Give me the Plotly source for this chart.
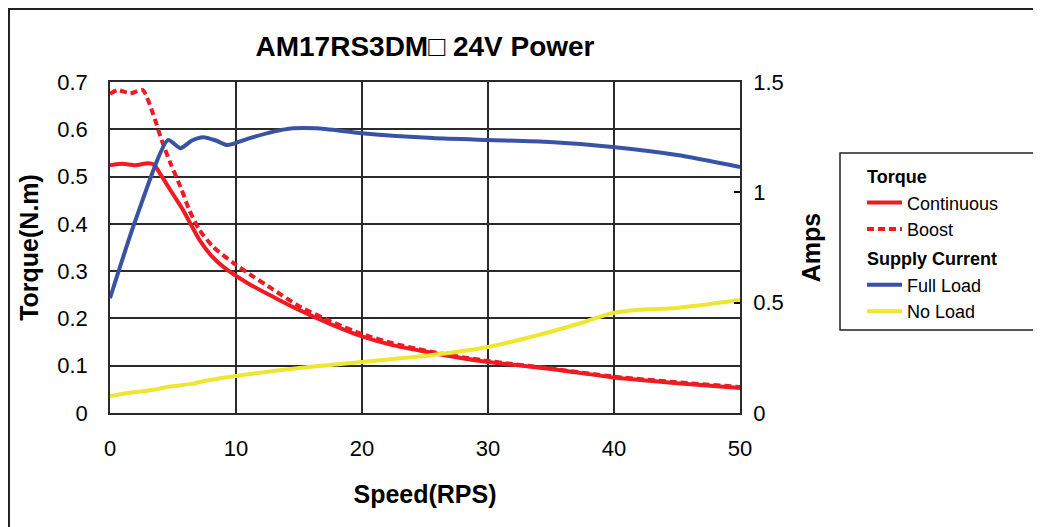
import plotly.graph_objects as go

# ---- data ----
cont_speed = [0, 1, 2, 3, 3.5, 4, 4.8, 5.8, 7.1, 8, 9, 10.9, 13, 15, 17.5, 20, 22.5, 25, 27.5, 30, 35, 40, 45, 50]
cont_torque = [0.524, 0.527, 0.524, 0.528, 0.525, 0.505, 0.471, 0.429, 0.366, 0.334, 0.309, 0.275, 0.245, 0.218, 0.188, 0.162, 0.143, 0.130, 0.118, 0.108, 0.093, 0.075, 0.063, 0.053]

boost_speed = [0, 0.6, 1.6, 2.6, 3.4, 4.1, 4.8, 5.6, 6.3, 7.1, 8.2, 9.8, 11.4, 12.9, 15, 17.5, 20, 22.5, 25, 27.5, 30, 35, 40, 45, 50]
boost_torque = [0.675, 0.683, 0.676, 0.683, 0.634, 0.577, 0.528, 0.478, 0.429, 0.387, 0.351, 0.317, 0.288, 0.262, 0.226, 0.194, 0.167, 0.147, 0.132, 0.12, 0.11, 0.094, 0.077, 0.065, 0.055]

full_speed = [0, 2, 4.6, 5.6, 6.5, 7.4, 8.4, 9.3, 11.1, 13, 14.5, 16.4, 20, 25.6, 30, 34.9, 39.9, 45, 50]
full_amps = [0.52, 0.87, 1.237, 1.20, 1.235, 1.25, 1.235, 1.214, 1.246, 1.275, 1.29, 1.29, 1.268, 1.246, 1.237, 1.228, 1.205, 1.169, 1.115]

noload_speed = [0, 2, 3.5, 4.5, 5.5, 6.5, 7.5, 8.5, 10, 15, 20, 25.6, 30, 34.9, 37.5, 39.9, 42, 45, 50]
noload_amps = [0.077, 0.095, 0.105, 0.118, 0.125, 0.132, 0.145, 0.155, 0.168, 0.204, 0.231, 0.263, 0.299, 0.367, 0.41, 0.453, 0.468, 0.476, 0.512]

title_text = "AM17RS3DM\u25a1 24V Power"

RED = "#ED1C24"
BLUE = "#3953A4"
YELLOW = "#EEE630"
FONT = "Liberation Sans, Arial, sans-serif"

W, H = 1041, 527
OFF = 8  # page body margin
L, R, T, B = 110 - OFF, 740 - OFF, 82 - OFF, 413 - OFF

def px(xs):
    return (xs - OFF - L) / (R - L)

def py(ys):
    return (B - (ys - OFF)) / (B - T)

fig = go.Figure()
fig.add_trace(go.Scatter(x=cont_speed, y=cont_torque, mode="lines", name="Continuous",
                         line=dict(color=RED, width=4, shape="spline", smoothing=0.6),
                         legendgroup="torque", legendgrouptitle_text="<b>Torque</b>"))
fig.add_trace(go.Scatter(x=boost_speed, y=boost_torque, mode="lines", name="Boost",
                         line=dict(color=RED, width=4, dash="7px,4px", shape="spline", smoothing=0.6),
                         legendgroup="torque"))
fig.add_trace(go.Scatter(x=full_speed, y=full_amps, mode="lines", name="Full Load", yaxis="y2",
                         line=dict(color=BLUE, width=4, shape="spline", smoothing=0.6),
                         legendgroup="supply", legendgrouptitle_text="<b>Supply Current</b>"))
fig.add_trace(go.Scatter(x=noload_speed, y=noload_amps, mode="lines", name="No Load", yaxis="y2",
                         line=dict(color=YELLOW, width=4, shape="spline", smoothing=0.6),
                         legendgroup="supply"))

grid = "#2a2a2a"
fig.update_layout(
    width=W, height=H,
    margin=dict(l=L, r=W - R, t=T, b=H - B, pad=0),
    paper_bgcolor="white", plot_bgcolor="white",
    font=dict(family=FONT, size=22, color="black"),
    title=dict(text="<b>" + title_text + "</b>", x=(425 - OFF) / W, xanchor="center",
               y=1 - (46 - OFF) / H, yanchor="middle", font=dict(size=28, family=FONT)),
    xaxis=dict(range=[0, 50], dtick=10, tick0=0, showgrid=True, gridcolor=grid, gridwidth=1.5,
               showline=True, linecolor=grid, linewidth=1.5, mirror=True, zeroline=False,
               ticks="", ticklabelstandoff=15,
               title=dict(text="<b>Speed(RPS)</b>", font=dict(size=25), standoff=25)),
    yaxis=dict(range=[0, 0.7], dtick=0.1, tick0=0, showgrid=True, gridcolor=grid, gridwidth=1.5,
               showline=True, linecolor=grid, linewidth=1.5, zeroline=False, ticks="",
               ticklabelstandoff=16, tickformat="~g",
               title=dict(text="<b>Torque(N.m)</b>", font=dict(size=25), standoff=12)),
    yaxis2=dict(range=[0, 1.5], dtick=0.5, tick0=0, overlaying="y", side="right", showgrid=False,
                showline=True, linecolor=grid, linewidth=1.5, zeroline=False,
                ticks="inside", ticklen=6, tickwidth=2, tickcolor="black",
                ticklabelstandoff=7, tickformat="~g",
                title=dict(text="<b>Amps</b>", font=dict(size=25), standoff=20)),
    legend=dict(x=px(862), y=py(158), xanchor="left", yanchor="top",
                bgcolor="rgba(0,0,0,0)", borderwidth=0,
                font=dict(size=18, family=FONT), grouptitlefont=dict(size=18, family=FONT),
                traceorder="grouped", tracegroupgap=3, itemwidth=35),
    shapes=[
        dict(type="rect", xref="paper", yref="paper", x0=px(9), x1=px(1060), y0=py(560), y1=py(9),
             line=dict(color="#222", width=2), fillcolor="rgba(0,0,0,0)", layer="below"),
        dict(type="rect", xref="paper", yref="paper", x0=px(840), x1=px(1039), y0=py(330), y1=py(153),
             line=dict(color="#222", width=1.5), fillcolor="white", layer="below"),
    ],
)

fig.write_html("out.html")
